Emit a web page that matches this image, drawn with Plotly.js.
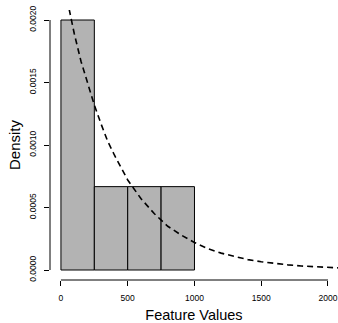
<!DOCTYPE html>
<html>
<head>
<meta charset="utf-8">
<script src="https://cdn.plot.ly/plotly-3.0.1.min.js"></script>
<style>html,body{margin:0;padding:0;background:#fff;}#chart{width:338px;height:323px;}</style>
</head>
<body>
<div id="chart"></div>
<script>
// Histogram bins (edges) and densities
var binEdges = [0, 250, 500, 750, 1000];
var densities = [0.002, 0.000667, 0.000667, 0.000667];

// Dashed density curve
var curveX = [0, 50, 100, 150, 200, 250, 300, 350, 400, 500, 600, 700, 800, 900, 1000, 1100, 1200, 1300, 1400, 1500, 1600, 1700, 1800, 1900, 2000, 2100];
var curveY = [0.00240, 0.00213, 0.00189, 0.00167, 0.00149, 0.00132, 0.00117, 0.00103, 0.00092, 0.00072, 0.00057, 0.00045, 0.00035, 0.00028, 0.00022, 0.00017, 0.000135, 0.000106, 0.000083, 0.000066, 0.000052, 0.000041, 0.000032, 0.000025, 0.000020, 0.000016];

var xTicks = [0, 500, 1000, 1500, 2000];
var yTicks = [0, 0.0005, 0.001, 0.0015, 0.002];
var yTickLabels = ["0.0000", "0.0005", "0.0010", "0.0015", "0.0020"];

var centers = [], widths = [];
for (var i = 0; i < densities.length; i++) {
  centers.push((binEdges[i] + binEdges[i + 1]) / 2);
  widths.push(binEdges[i + 1] - binEdges[i]);
}

var bars = {
  type: 'bar', x: centers, y: densities, width: widths,
  marker: {color: '#B3B3B3', line: {color: '#000000', width: 1}},
  hoverinfo: 'skip'
};
var curve = {
  type: 'scatter', mode: 'lines', x: curveX, y: curveY,
  line: {color: '#000000', width: 1.6, dash: '6px,4px'},
  hoverinfo: 'skip'
};

var font = 'Liberation Sans, Arial, Helvetica, sans-serif';
var layout = {
  width: 338, height: 323,
  margin: {l: 50, r: 0, t: 10, b: 43},
  paper_bgcolor: '#ffffff', plot_bgcolor: '#ffffff',
  showlegend: false,
  bargap: 0,
  font: {family: font, color: '#000000'},
  xaxis: {
    range: [-82, 2075], showgrid: false, zeroline: false, showline: false,
    tickvals: xTicks, ticktext: xTicks.map(String),
    ticks: 'outside', ticklen: 5, tickwidth: 1, tickcolor: '#000',
    ticklabelstandoff: 5,
    tickfont: {size: 8.5, family: font},
    title: {text: 'Feature Values', font: {size: 14.5, family: font}, standoff: 8}
  },
  yaxis: {
    range: [-0.00008, 0.00208], showgrid: false, zeroline: false, showline: false,
    tickvals: yTicks, ticktext: yTickLabels, tickangle: -90,
    ticks: 'outside', ticklen: 5, tickwidth: 1, tickcolor: '#000',
    ticklabelstandoff: 5,
    tickfont: {size: 8.5, family: font},
    title: {text: 'Density', font: {size: 15, family: font}, standoff: 3}
  },
  shapes: [
    {type: 'line', xref: 'x', yref: 'paper', x0: xTicks[0], x1: xTicks[xTicks.length - 1], y0: 0, y1: 0, line: {color: '#000', width: 1}},
    {type: 'line', xref: 'paper', yref: 'y', x0: 0, x1: 0, y0: yTicks[0], y1: yTicks[yTicks.length - 1], line: {color: '#000', width: 1}}
  ]
};

Plotly.newPlot('chart', [bars, curve], layout, {displayModeBar: false, staticPlot: true});
</script>
</body>
</html>
